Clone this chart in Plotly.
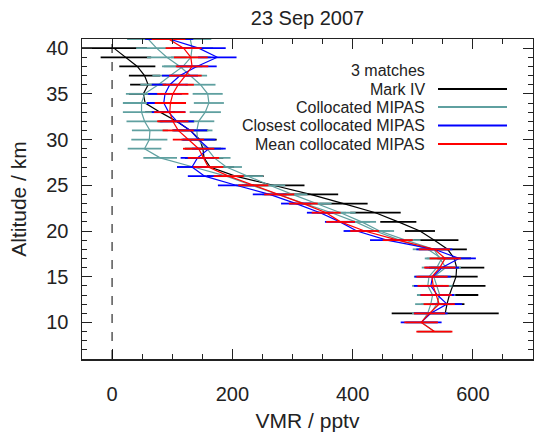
import plotly.graph_objects as go

# ---------------- data ----------------
alt_mk4 = list(range(40, 10, -1))  # 40 .. 11 km
vmr_mk4 = [3, 23, 42, 54, 60, 52, 55, 80, 107, 130, 146, 151, 153, 163, 205,
           268, 330, 385, 438, 476, 512, 536, 558, 569, 573, 572, 566, 561, 557, 554]
err_mk4 = [55, 42, 30, 26, 30, 24, 28, 25, 30, 30, 28, 30, 32, 40, 47,
           52, 46, 40, 42, 30, 25, 40, 32, 28, 46, 36, 55, 48, 29, 89]

alt_colA = list(range(41, 8, -1))  # 41 .. 9 km
vmr_colA = [130, 133, 131, 118, 97, 77, 54, 49, 49, 54, 63, 62, 54, 80, 135,
            190, 232, 275, 320, 365, 405, 438, 478, 525, 548, 540, 527, 525,
            533, 530, 525, 515, 536]
err_colA = [35, 35, 33, 32, 30, 30, 31, 31, 31, 30, 30, 30, 28, 28, 27,
            27, 26, 25, 25, 24, 24, 24, 24, 25, 25, 25, 25, 26, 26, 26, 26, 26, 28]

alt_colB = list(range(41, 10, -1))  # 41 .. 11 km
vmr_colB = [60, 74, 91, 113, 130, 147, 159, 161, 155, 144, 141, 142, 158, 170,
            190, 225, 262, 300, 340, 380, 415, 445, 488, 535, 545, 555, 535,
            540, 545, 540, 530]
err_colB = [35, 34, 33, 30, 28, 25, 25, 25, 26, 26, 26, 27, 27, 27, 26, 26,
            26, 25, 25, 25, 24, 24, 25, 25, 25, 25, 26, 26, 26, 26, 26]

alt_close = list(range(41, 9, -1))  # 41 .. 10 km
vmr_close = [95, 144, 175, 141, 113, 96, 88, 86, 94, 108, 130, 144, 161, 142,
             133, 154, 206, 262, 306, 346, 379, 407, 457, 536, 577, 549, 533,
             530, 541, 557, 530, 514]
err_close = [40, 45, 32, 33, 30, 30, 28, 28, 28, 28, 28, 28, 28, 28, 25, 28,
             30, 28, 25, 22, 25, 22, 28, 30, 28, 28, 30, 28, 28, 25, 28, 34]

alt_mean = list(range(41, 8, -1))  # 41 .. 9 km
vmr_mean = [94, 119, 131, 133, 122, 110, 101, 97, 96, 101, 110, 127, 144, 152,
            160, 194, 235, 278, 318, 356, 380, 420, 475, 536, 554, 545, 532,
            534, 539, 544, 528, 514, 536]
err_mean = [28, 30, 28, 27, 27, 26, 26, 26, 26, 26, 26, 26, 26, 26, 25, 25,
            25, 25, 24, 24, 24, 24, 25, 26, 26, 26, 26, 26, 26, 26, 26, 28, 30]

legend_labels = ["Mark IV", "Collocated MIPAS", "Closest collocated MIPAS",
                 "Mean collocated MIPAS"]
legend_header = "3 matches"

x_ticks = [0, 200, 400, 600]
y_ticks = [10, 15, 20, 25, 30, 35, 40]

# ---------------- styles ----------------
BLACK = "#000000"
TEAL = "rgb(95,160,160)"
BLUE = "#0000ff"
RED = "#ff0000"
FONT = "Liberation Sans, Arial, Helvetica, sans-serif"
TXT = "#222222"

fig = go.Figure()


def add(x, y, err, color, lw=1.2):
    fig.add_trace(go.Scatter(
        x=x, y=y, mode="lines",
        line=dict(color=color, width=lw),
        error_x=dict(type="data", array=err, color=color, thickness=1.8, width=0),
        showlegend=False, hoverinfo="skip"))


add(vmr_mk4, alt_mk4, err_mk4, BLACK)
add(vmr_colA, alt_colA, err_colA, TEAL)
add(vmr_colB, alt_colB, err_colB, TEAL)
add(vmr_close, alt_close, err_close, BLUE)
add(vmr_mean, alt_mean, err_mean, RED)

# zero reference line
fig.add_shape(type="line", xref="x", yref="y", x0=0, x1=0, y0=6, y1=41,
              line=dict(color=BLACK, width=1, dash="dash"))

# manual legend (text left of the line sample)
W, H = 534, 434
L, R, T, B = 82, 1, 39, 75
pw, ph = W - L - R, H - T - B


def px(xp):
    return (xp - L) / pw


def py(yp):
    return (H - B - yp) / ph


fig.add_annotation(x=px(427), y=py(70), xref="paper", yref="paper",
                   text=legend_header, showarrow=False, xanchor="right",
                   yanchor="middle", font=dict(family=FONT, size=16, color=TXT))
rows = [89, 107, 125.5, 144]
cols = [BLACK, TEAL, BLUE, RED]
for lab, ry, c in zip(legend_labels, rows, cols):
    fig.add_annotation(x=px(427), y=py(ry), xref="paper", yref="paper",
                       text=lab, showarrow=False, xanchor="right",
                       yanchor="middle", font=dict(family=FONT, size=16, color=TXT))
    fig.add_shape(type="line", xref="paper", yref="paper",
                  x0=px(438), x1=px(507), y0=py(ry), y1=py(ry),
                  line=dict(color=c, width=2))

axis_common = dict(
    showgrid=False, zeroline=False, showline=True, linecolor="#222222",
    linewidth=1.5, mirror="allticks", ticks="inside", ticklen=10,
    tickwidth=1, tickcolor="#222222", automargin=False,
    tickfont=dict(family=FONT, size=20, color=TXT),
)

fig.update_layout(
    width=W, height=H,
    margin=dict(l=L, r=R, t=T, b=B, autoexpand=False),
    paper_bgcolor="white", plot_bgcolor="white",
    title=dict(text="23 Sep 2007", x=(L + pw / 2) / W, xanchor="center",
               y=1 - 18 / H, yanchor="middle",
               font=dict(family=FONT, size=20, color=TXT)),
    xaxis=dict(range=[-50, 700], tickvals=x_ticks,
               minor=dict(dtick=50, tick0=0, ticks="inside", ticklen=5,
                          tickcolor="#222222"),
               title=dict(text="VMR / pptv", standoff=10,
                          font=dict(family=FONT, size=21, color=TXT)),
               ticklabelstandoff=16,
               **axis_common),
    yaxis=dict(range=[6, 41], tickvals=y_ticks,
               minor=dict(dtick=1, tick0=0, ticks="inside", ticklen=5,
                          tickcolor="#222222"),
               title=dict(text="Altitude / km", standoff=14,
                          font=dict(family=FONT, size=21, color=TXT)),
               ticklabelstandoff=8,
               **axis_common),
)

fig.write_html(
    "out.html",
    config={"displayModeBar": False, "staticPlot": True},
    post_script="document.body.style.margin='0';document.body.style.overflow='hidden';",
)
